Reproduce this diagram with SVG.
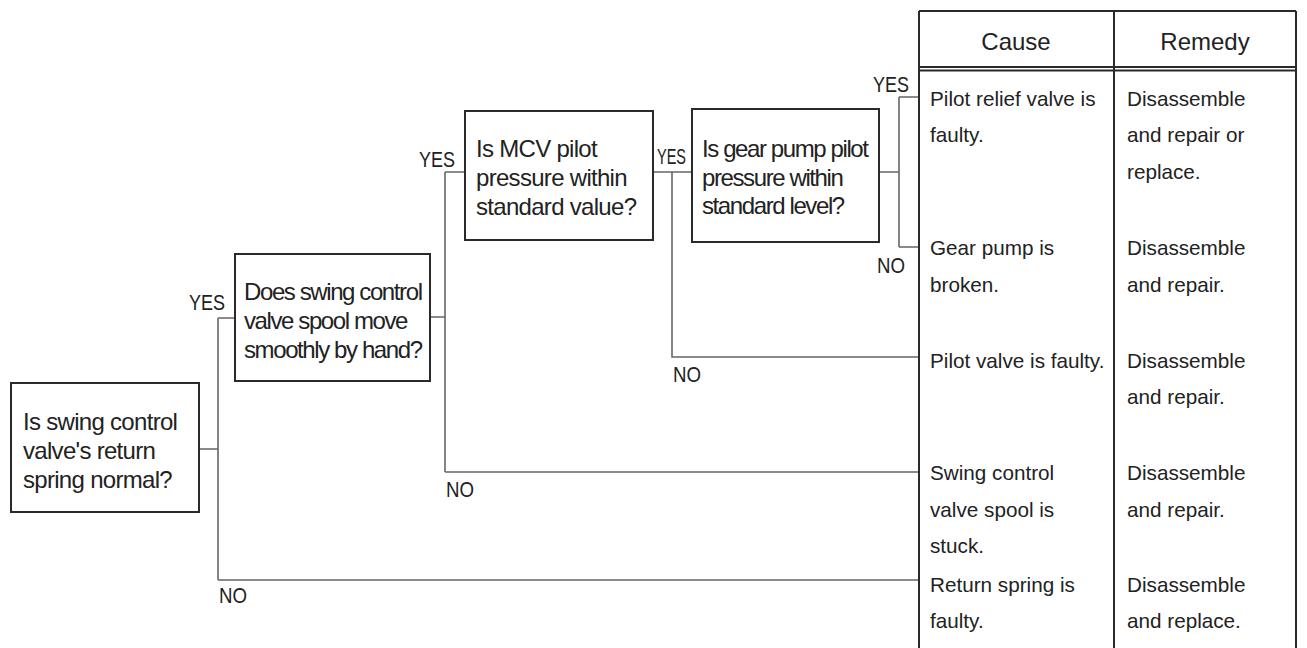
<svg xmlns="http://www.w3.org/2000/svg" width="1307" height="648" viewBox="0 0 1307 648">
<style>
text{font-family:"Liberation Sans",Arial,sans-serif;fill:#222}
.box{fill:#fff;stroke:#2a2a2a;stroke-width:2}
.q{font-size:24px}
.lbl{font-size:22px}
.cell{font-size:20.7px}
.hdr{font-size:24px;text-anchor:middle}
.conn{fill:none;stroke:#666;stroke-width:1.6}
.tbl{fill:none;stroke:#2a2a2a;stroke-width:2}
</style>
<rect width="1307" height="648" fill="#fff"/>
<g id="connectors" class="conn">
<path d="M199,449 H218 M218,318 V580 M218,318 H235 M218,580 H919"/>
<path d="M430,317 H445 M445,172 V472 M445,172 H465 M445,472 H919"/>
<path d="M653,172 H692 M672,172 V357 H919"/>
<path d="M879,172 H899 M899,97 V247 M899,97 H919 M899,247 H919"/>
</g>
<g id="labels" class="lbl">
<text x="189" y="310" textLength="36" lengthAdjust="spacingAndGlyphs">YES</text>
<text x="219" y="603" textLength="28" lengthAdjust="spacingAndGlyphs">NO</text>
<text x="419" y="167" textLength="36" lengthAdjust="spacingAndGlyphs">YES</text>
<text x="446" y="497" textLength="28" lengthAdjust="spacingAndGlyphs">NO</text>
<text x="657" y="164" textLength="29" lengthAdjust="spacingAndGlyphs">YES</text>
<text x="673" y="382" textLength="28" lengthAdjust="spacingAndGlyphs">NO</text>
<text x="873" y="92" textLength="36" lengthAdjust="spacingAndGlyphs">YES</text>
<text x="877" y="273" textLength="28" lengthAdjust="spacingAndGlyphs">NO</text>
</g>
<g id="q1">
<rect class="box" x="11" y="383" width="188" height="129"/>
<text class="q" style="letter-spacing:-0.7px"><tspan x="23" y="430">Is swing control</tspan><tspan x="23" y="459">valve's return</tspan><tspan x="23" y="488">spring normal?</tspan></text>
</g>
<g id="q2">
<rect class="box" x="235" y="254" width="195" height="127"/>
<text class="q" style="letter-spacing:-1.4px"><tspan x="244" y="300">Does swing control</tspan><tspan x="244" y="329">valve spool move</tspan><tspan x="244" y="358">smoothly by hand?</tspan></text>
</g>
<g id="q3">
<rect class="box" x="465" y="111" width="188" height="129"/>
<text class="q" style="letter-spacing:-0.7px"><tspan x="476" y="157">Is MCV pilot</tspan><tspan x="476" y="186">pressure within</tspan><tspan x="476" y="215">standard value?</tspan></text>
</g>
<g id="q4">
<rect class="box" x="692" y="109" width="187" height="133"/>
<text class="q" style="letter-spacing:-1.4px"><tspan x="702" y="157">Is gear pump pilot</tspan><tspan x="702" y="186">pressure within</tspan><tspan x="702" y="214">standard level?</tspan></text>
</g>
<g id="table">
<path class="tbl" d="M919,11 H1296 M919,11 V648 M1296,11 V648 M1114,11 V648 M919,67 H1296 M919,70.5 H1296"/>
<text class="hdr" x="1016" y="50">Cause</text>
<text class="hdr" x="1205" y="50">Remedy</text>
<g id="r1" class="cell">
<text><tspan x="930" y="106">Pilot relief valve is</tspan><tspan x="930" y="142">faulty.</tspan></text>
<text><tspan x="1127" y="106">Disassemble</tspan><tspan x="1127" y="142">and repair or</tspan><tspan x="1127" y="179">replace.</tspan></text>
</g>
<g id="r2" class="cell">
<text><tspan x="930" y="255">Gear pump is</tspan><tspan x="930" y="292">broken.</tspan></text>
<text><tspan x="1127" y="255">Disassemble</tspan><tspan x="1127" y="292">and repair.</tspan></text>
</g>
<g id="r3" class="cell">
<text><tspan x="930" y="368">Pilot valve is faulty.</tspan></text>
<text><tspan x="1127" y="368">Disassemble</tspan><tspan x="1127" y="404">and repair.</tspan></text>
</g>
<g id="r4" class="cell">
<text><tspan x="930" y="480">Swing control</tspan><tspan x="930" y="517">valve spool is</tspan><tspan x="930" y="553">stuck.</tspan></text>
<text><tspan x="1127" y="480">Disassemble</tspan><tspan x="1127" y="517">and repair.</tspan></text>
</g>
<g id="r5" class="cell">
<text><tspan x="930" y="592">Return spring is</tspan><tspan x="930" y="628">faulty.</tspan></text>
<text><tspan x="1127" y="592">Disassemble</tspan><tspan x="1127" y="628">and replace.</tspan></text>
</g>
</g>
</svg>
